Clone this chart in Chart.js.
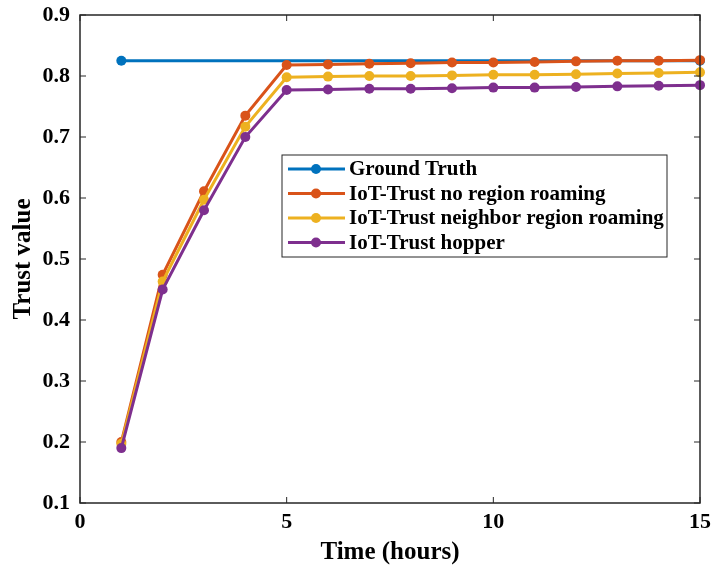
<!DOCTYPE html>
<html>
<head>
<meta charset="utf-8">
<script src="https://cdn.jsdelivr.net/npm/chart.js@4/dist/chart.umd.min.js"></script>
<style>
  html, body { margin: 0; padding: 0; background: #fff; }
  #wrap { width: 713px; height: 574px; }
</style>
</head>
<body>
<div id="wrap"><canvas id="c" width="713" height="574"></canvas></div>
<script>
// ---- data ----
const hours = [1, 2, 3, 4, 5, 6, 7, 8, 9, 10, 11, 12, 13, 14, 15];
const groundTruthHours = [1, 15];
const groundTruth = [0.825, 0.825];
const noRegionRoaming = [0.200, 0.474, 0.611, 0.735, 0.818, 0.819, 0.820, 0.821, 0.822, 0.822, 0.823, 0.824, 0.825, 0.825, 0.826];
const neighborRegionRoaming = [0.197, 0.463, 0.597, 0.717, 0.798, 0.799, 0.800, 0.800, 0.801, 0.802, 0.802, 0.803, 0.804, 0.805, 0.806];
const hopper = [0.190, 0.450, 0.580, 0.700, 0.777, 0.778, 0.779, 0.779, 0.780, 0.781, 0.781, 0.782, 0.783, 0.784, 0.785];
const seriesNames = ['Ground Truth', 'IoT-Trust no region roaming', 'IoT-Trust neighbor region roaming', 'IoT-Trust hopper'];
const seriesColors = ['#0072BD', '#D95319', '#EDB120', '#7E2F8E'];
const xTitle = 'Time (hours)';
const yTitle = 'Trust value';

const FONT = '"Liberation Serif", "Times New Roman", serif';

function pts(xs, ys) { return xs.map((x, i) => ({ x: x, y: ys[i] })); }

const allSeries = [
  pts(groundTruthHours, groundTruth),
  pts(hours, noRegionRoaming),
  pts(hours, neighborRegionRoaming),
  pts(hours, hopper)
];

const datasets = allSeries.map((d, i) => ({
  label: seriesNames[i],
  data: d,
  borderColor: seriesColors[i],
  backgroundColor: seriesColors[i],
  pointBackgroundColor: seriesColors[i],
  pointBorderColor: seriesColors[i],
  pointBorderWidth: 0,
  pointRadius: 5,
  borderWidth: 3,
  tension: 0,
  clip: false,
  order: allSeries.length - i
}));

const boxPlugin = {
  id: 'matlabBox',
  afterDraw(chart) {
    const ctx = chart.ctx;
    const a = chart.chartArea;
    ctx.save();
    ctx.strokeStyle = '#262626';
    ctx.lineWidth = 1.5;
    ctx.strokeRect(a.left, a.top, a.right - a.left, a.bottom - a.top);
    // inner ticks on all four sides
    const tl = 6;
    const xs = chart.scales.x, ys = chart.scales.y;
    ctx.lineWidth = 1;
    ctx.beginPath();
    xs.ticks.forEach(t => {
      const px = xs.getPixelForValue(t.value);
      ctx.moveTo(px, a.bottom); ctx.lineTo(px, a.bottom - tl);
      ctx.moveTo(px, a.top); ctx.lineTo(px, a.top + tl);
    });
    ys.ticks.forEach(t => {
      const py = ys.getPixelForValue(t.value);
      ctx.moveTo(a.left, py); ctx.lineTo(a.left + tl, py);
      ctx.moveTo(a.right, py); ctx.lineTo(a.right - tl, py);
    });
    ctx.stroke();

    // legend box inside the plot area
    const lx = a.left + 202, ly = a.top + 140, lw = 385, lh = 102;
    ctx.fillStyle = '#fff';
    ctx.fillRect(lx, ly, lw, lh);
    ctx.strokeStyle = '#262626';
    ctx.lineWidth = 1;
    ctx.strokeRect(lx, ly, lw, lh);
    ctx.font = 'bold 21px ' + FONT;
    ctx.textBaseline = 'middle';
    ctx.textAlign = 'left';
    chart.data.datasets.forEach((ds, i) => {
      const cy = ly + 14 + i * 24.5;
      ctx.strokeStyle = ds.borderColor;
      ctx.lineWidth = 3;
      ctx.beginPath();
      ctx.moveTo(lx + 6, cy); ctx.lineTo(lx + 63, cy);
      ctx.stroke();
      ctx.fillStyle = ds.borderColor;
      ctx.beginPath();
      ctx.arc(lx + 34, cy, 5, 0, Math.PI * 2);
      ctx.fill();
      ctx.fillStyle = '#000';
      ctx.fillText(ds.label, lx + 67, cy + 1);
    });
    ctx.restore();
  }
};

new Chart(document.getElementById('c'), {
  type: 'line',
  data: { datasets: datasets },
  options: {
    responsive: false,
    animation: false,
    layout: { padding: { left: 0, top: 15, right: 13, bottom: 0 } },
    plugins: { legend: { display: false }, tooltip: { enabled: false } },
    scales: {
      x: {
        type: 'linear',
        min: 0, max: 15,
        afterFit(s) { s.height = 71; s.paddingLeft = 0; s.paddingRight = 0; },
        grid: { display: false, drawTicks: false },
        border: { display: false },
        ticks: { stepSize: 5, padding: 6, color: '#000', font: { family: FONT, size: 22, weight: 'bold' } },
        title: { display: true, text: xTitle, color: '#000', padding: { top: 0, bottom: 6 }, font: { family: FONT, size: 25, weight: 'bold', lineHeight: 1.2 } }
      },
      y: {
        type: 'linear',
        min: 0.1, max: 0.9,
        afterFit(s) { s.width = 80; s.paddingTop = 0; s.paddingBottom = 0; },
        grid: { display: false, drawTicks: false },
        border: { display: false },
        ticks: { stepSize: 0.1, padding: 10, color: '#000', font: { family: FONT, size: 22, weight: 'bold' },
          callback: v => (Math.round(v * 10) / 10).toFixed(1) },
        title: { display: true, text: yTitle, color: '#000', padding: { top: 9, bottom: 0 }, font: { family: FONT, size: 25, weight: 'bold', lineHeight: 1.2 } }
      }
    }
  },
  plugins: [boxPlugin]
});
</script>
</body>
</html>
